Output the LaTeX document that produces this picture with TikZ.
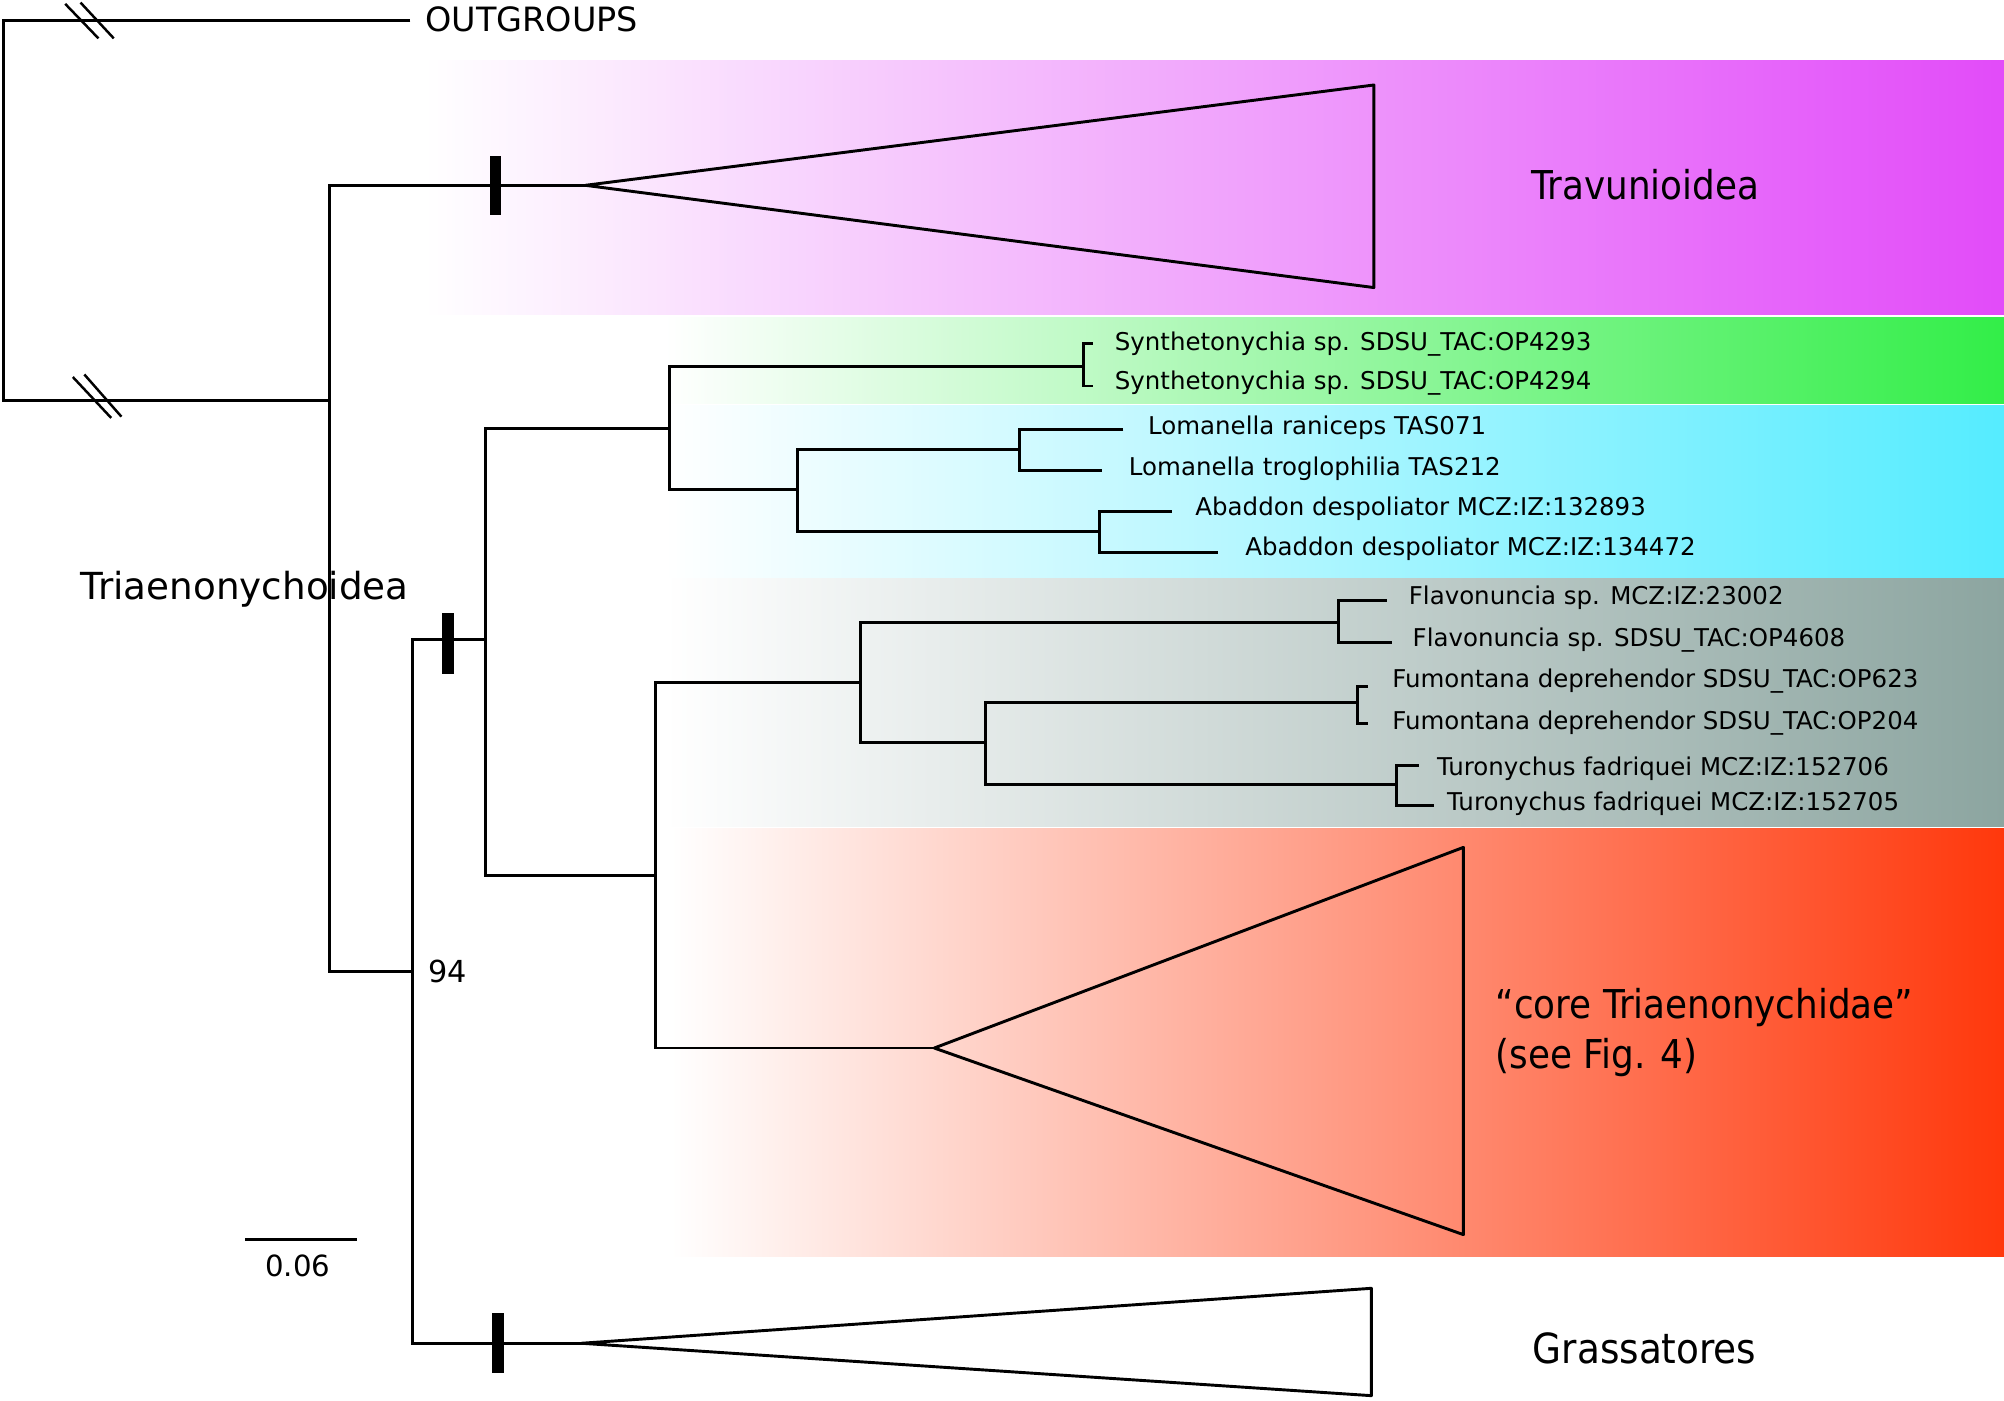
\documentclass[tikz,border=0pt]{standalone}
\usepackage{fontspec}
\setmainfont{DejaVu Sans}
\newfontfamily\condfont{DejaVu Sans Condensed}
\definecolor{travc}{RGB}{226,75,249}
\definecolor{greenc}{RGB}{50,238,72}
\definecolor{cyanc}{RGB}{85,236,255}
\definecolor{greyc}{RGB}{140,165,160}
\definecolor{corec}{RGB}{255,56,12}
\begin{document}
\begin{tikzpicture}[x=0.02cm,y=-0.02cm,
  branch/.style={line width=1.3pt, line join=miter},
  tri/.style={line width=1.3pt, line join=round},
  slash/.style={line width=1.1pt},
  bar/.style={fill=black},
  leaf/.style={anchor=base west, inner sep=0pt, font=\fontsize{10.9}{13}\selectfont},
  biglab/.style={anchor=base west, inner sep=0pt, font=\condfont\fontsize{17.7}{21}\selectfont},
  midlab/.style={anchor=base west, inner sep=0pt, font=\fontsize{16.6}{20}\selectfont}]
\useasboundingbox (0,0) rectangle (1568,1096);
\fill[white] (0,0) rectangle (1568,1096);
% coloured bands
\shade[left color=white, right color=travc] (332,47) rectangle (1568,246);
\shade[left color=white, right color=greenc] (520,248.5) rectangle (1568,316);
\shade[left color=white, right color=cyanc] (520,317.5) rectangle (1568,451.5);
\shade[left color=white, right color=greyc] (520,453) rectangle (1568,646.5);
\shade[left color=white, right color=corec] (525,648.5) rectangle (1568,983);
% coordinates
\coordinate (og) at (321,16);
\coordinate (R) at (3,165);
\coordinate (A) at (258,313);
\coordinate (trv) at (458,145);
\coordinate (B) at (323,760);
\coordinate (gra) at (455,1051);
\coordinate (C) at (380,500);
\coordinate (D) at (524,335);
\coordinate (E) at (848,287);
\coordinate (e1) at (855,269);
\coordinate (e2) at (855,302);
\coordinate (F) at (624,383);
\coordinate (G) at (798,352);
\coordinate (g1) at (879,336);
\coordinate (g2) at (862,368);
\coordinate (H) at (860,416);
\coordinate (h1) at (917,400);
\coordinate (h2) at (953,432);
\coordinate (I) at (513,685);
\coordinate (J) at (673,534);
\coordinate (core) at (731,820);
\coordinate (K) at (1047,487);
\coordinate (k1) at (1085,470);
\coordinate (k2) at (1089,503);
\coordinate (L) at (771,581);
\coordinate (M) at (1062,550);
\coordinate (m1) at (1070,537);
\coordinate (m2) at (1070,566);
\coordinate (N) at (1093,614);
\coordinate (n1) at (1110,599);
\coordinate (n2) at (1122,630);
% tree
\draw[branch] (og) -| (R) |- (A);
\draw[branch] (trv) -| (A) |- (B);
\draw[branch] (C) -| (B) |- (gra);
\draw[branch] (D) -| (C) |- (I);
\draw[branch] (E) -| (D) |- (F);
\draw[branch] (e1) -| (E) |- (e2);
\draw[branch] (G) -| (F) |- (H);
\draw[branch] (g1) -| (G) |- (g2);
\draw[branch] (h1) -| (H) |- (h2);
\draw[branch] (J) -| (I) |- (core);
\draw[branch] (K) -| (J) |- (L);
\draw[branch] (k1) -| (K) |- (k2);
\draw[branch] (M) -| (L) |- (N);
\draw[branch] (m1) -| (M) |- (m2);
\draw[branch] (n1) -| (N) |- (n2);
% collapsed clades
\draw[tri] (trv) -- (1075,66.5) -- (1075,225) -- cycle;
\draw[tri] (core) -- (1145,663) -- (1145,966) -- cycle;
\draw[tri] (gra) -- (1073,1008) -- (1073,1092) -- cycle;
% support bars
\fill[bar] (383,122) rectangle (392,168);
\fill[bar] (346,480) rectangle (355,527);
\fill[bar] (385,1027) rectangle (394,1074);
% break marks
\draw[slash] (51,3) -- (77,30);
\draw[slash] (63,2) -- (89,30);
\draw[slash] (57,295) -- (87,327);
\draw[slash] (66,293) -- (95,326);
% scale bar
\coordinate (s1) at (192,970);
\coordinate (s2) at (279,970);
\draw[line width=1.5pt] (s1) -- (s2);
\node[anchor=base, inner sep=0pt, font=\fontsize{13}{15}\selectfont] (scl) at (233,999) {0.06};
% labels
\node[anchor=base west, inner sep=0pt, font=\fontsize{14.9}{17}\selectfont] (tOG) at (332.5,24.8) {OUTGROUPS};
\node[biglab] (tTrav) at (1198,155.7) {Travunioidea};
\node[midlab] (tTri) at (63,469) {Triaenonychoidea};
\node[anchor=base west, inner sep=0pt, font=\fontsize{13.5}{15}\selectfont] (t94) at (335,769) {94};
\node[biglab] (tCore1) at (1170,797) {“core Triaenonychidae”};
\node[biglab] (tCore2) at (1170,836) {(see Fig. 4)};
\node[biglab, font=\condfont\fontsize{18.5}{21}\selectfont] (tGra) at (1199,1067) {Grassatores};
\node[leaf] (l1) at (872,274) {Synthetonychia sp. SDSU\_TAC:OP4293};
\node[leaf] (l2) at (872,305) {Synthetonychia sp. SDSU\_TAC:OP4294};
\node[leaf] (l3) at (898,340) {Lomanella raniceps TAS071};
\node[leaf] (l4) at (883,372) {Lomanella troglophilia TAS212};
\node[leaf] (l5) at (935,403) {Abaddon despoliator MCZ:IZ:132893};
\node[leaf] (l6) at (974,435) {Abaddon despoliator MCZ:IZ:134472};
\node[leaf] (l7) at (1102,473) {Flavonuncia sp. MCZ:IZ:23002};
\node[leaf] (l8) at (1105,506) {Flavonuncia sp. SDSU\_TAC:OP4608};
\node[leaf] (l9) at (1089,538) {Fumontana deprehendor SDSU\_TAC:OP623};
\node[leaf] (l10) at (1089,571) {Fumontana deprehendor SDSU\_TAC:OP204};
\node[leaf] (l11) at (1124,607) {Turonychus fadriquei MCZ:IZ:152706};
\node[leaf] (l12) at (1132,634) {Turonychus fadriquei MCZ:IZ:152705};
\end{tikzpicture}
\end{document}
